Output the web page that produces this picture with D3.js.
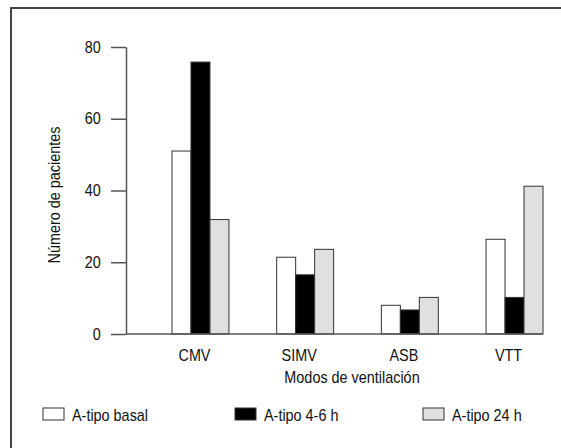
<!DOCTYPE html>
<html>
<head>
<meta charset="utf-8">
<script src="https://cdn.jsdelivr.net/npm/d3@7"></script>
<style>
  body { margin: 0; background: #fff; }
  text { font-family: "Liberation Sans", Arial, sans-serif; font-size: 16px; fill: #111; }
  .bar { stroke: #333; stroke-width: 1; }
  .axis path, .axis line { stroke: #555; stroke-width: 1.5; }
</style>
</head>
<body>
<script>
var categories = ["CMV", "SIMV", "ASB", "VTT"];
var seriesNames = ["A-tipo basal", "A-tipo 4-6 h", "A-tipo 24 h"];
var basal = [51, 21.4, 8, 26.4];
var tipo4a6 = [75.8, 16.5, 6.7, 10.2];
var tipo24 = [31.9, 23.6, 10.2, 41.2];
var yTicks = [0, 20, 40, 60, 80];
var fills = ["#ffffff", "#000000", "#e0e0e0"];

var width = 561, height = 448;
var squeeze = 0.9; // the reference uses a slightly condensed face

var svg = d3.select("body").append("svg")
    .attr("width", width)
    .attr("height", height);

// frame (only left and top edges visible)
svg.append("path")
    .attr("d", "M11," + height + "V8H" + width)
    .attr("fill", "none")
    .attr("stroke", "#444")
    .attr("stroke-width", 2);

var y = d3.scaleLinear()
    .domain([0, 80])
    .range([334, 47]);

var x = d3.scaleBand()
    .domain(categories)
    .range([172, 543])
    .paddingInner(0.456)
    .paddingOuter(0);

var xSub = d3.scaleBand()
    .domain(seriesNames)
    .range([0, x.bandwidth()]);

var axisX0 = 126;

function place(sel, tx, ty, extra) {
    sel.attr("transform", "translate(" + tx + "," + ty + ")" + (extra || "") + " scale(" + squeeze + ",1)");
}

var yAxis = svg.append("g")
    .attr("class", "axis")
    .attr("transform", "translate(" + axisX0 + ",0)")
    .call(d3.axisLeft(y).tickValues(yTicks).tickSize(15).tickSizeOuter(0).tickPadding(13));
yAxis.selectAll("text")
    .style("font-size", "16px")
    .attr("fill", "#111")
    .attr("transform", "scale(" + squeeze + ",1)");

var data = categories.map(function(c, i) {
    return {cat: c, values: [basal[i], tipo4a6[i], tipo24[i]]};
});

var groups = svg.selectAll(".group")
    .data(data)
    .enter()
    .append("g")
    .attr("class", "group")
    .attr("transform", d => "translate(" + x(d.cat) + ",0)");

groups.selectAll("rect")
    .data(d => d.values.map((v, j) => ({name: seriesNames[j], value: v, j: j})))
    .enter()
    .append("rect")
    .attr("class", "bar")
    .attr("x", d => xSub(d.name))
    .attr("y", d => y(d.value))
    .attr("width", xSub.bandwidth())
    .attr("height", d => y(0) - y(d.value))
    .attr("fill", d => fills[d.j]);

// x baseline
svg.append("line")
    .attr("x1", axisX0)
    .attr("x2", x.range()[1])
    .attr("y1", y(0))
    .attr("y2", y(0))
    .attr("stroke", "#555")
    .attr("stroke-width", 1.5);

svg.selectAll(".cat-label")
    .data(categories)
    .enter()
    .append("text")
    .attr("class", "cat-label")
    .attr("text-anchor", "middle")
    .each(function(d) {
        place(d3.select(this), x(d) + x.bandwidth() / 2 - 6, 361);
    })
    .text(d => d);

svg.append("text")
    .attr("text-anchor", "middle")
    .call(place, 352, 383)
    .text("Modos de ventilación");

svg.append("text")
    .attr("text-anchor", "middle")
    .call(place, 60, 195, " rotate(-90)")
    .text("Número de pacientes");

// legend
var legendX = [43, 235, 423];
var legend = svg.selectAll(".legend")
    .data(seriesNames)
    .enter()
    .append("g")
    .attr("class", "legend")
    .attr("transform", (d, i) => "translate(" + legendX[i] + ",408)");

legend.append("rect")
    .attr("width", 21)
    .attr("height", 12)
    .attr("fill", (d, i) => fills[i])
    .attr("stroke", "#333")
    .attr("stroke-width", 1);

legend.append("text")
    .call(place, 29, 12.5)
    .text(d => d);
</script>
</body>
</html>
